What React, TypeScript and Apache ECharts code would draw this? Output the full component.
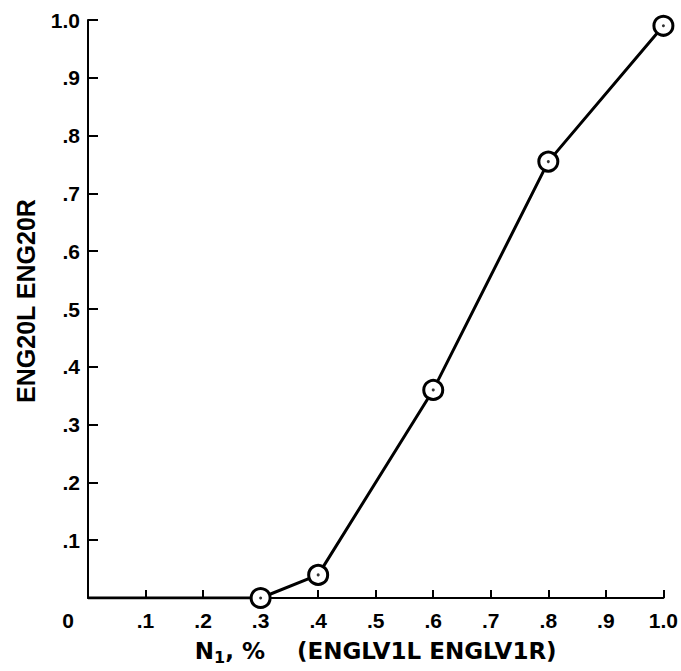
import React, { useEffect, useRef } from "react";
import * as echarts from "echarts";

// Measured response: N1 (ENGLV1L/ENGLV1R) against ENG20L/ENG20R
const n1Values = [0, 0.3, 0.4, 0.6, 0.8, 1.0];
const engValues = [0, 0, 0.04, 0.36, 0.755, 0.99];
// the first point sits on the origin and carries no marker
const hasMarker = [false, true, true, true, true, true];

const xTickLabels = ["", ".1", ".2", ".3", ".4", ".5", ".6", ".7", ".8", ".9", "1.0"];
const yTickLabels = ["0", ".1", ".2", ".3", ".4", ".5", ".6", ".7", ".8", ".9", "1.0"];

const xAxisTitle = "(ENGLV1L ENGLV1R)";
const yAxisTitle = "ENG20L ENG20R";

const FONT = "'Liberation Sans', Arial, Helvetica, sans-serif";
const WIDE_FONT = "'DejaVu Sans', 'Liberation Sans', sans-serif";

export default function App() {
  const ref = useRef<HTMLDivElement>(null);

  useEffect(() => {
    if (!ref.current) return;
    const chart = echarts.init(ref.current, undefined, { renderer: "svg" });

    const lineData = n1Values.map((x, i) =>
      hasMarker[i]
        ? { value: [x, engValues[i]] }
        : { value: [x, engValues[i]], symbol: "none" }
    );
    const dotData = n1Values
      .map((x, i) => [x, engValues[i]])
      .filter((_, i) => hasMarker[i]);

    const tickIndex = (v: number) => Math.round(v * 10);

    chart.setOption({
      animation: false,
      backgroundColor: "#ffffff",
      grid: { left: 88, right: 13, top: 20, bottom: 73 },
      xAxis: {
        type: "value",
        min: 0,
        max: 1,
        interval: 0.1,
        splitLine: { show: false },
        axisLine: { show: true, lineStyle: { color: "#000", width: 2 } },
        axisTick: { show: true, inside: true, length: 8, lineStyle: { color: "#000", width: 2 } },
        axisLabel: {
          margin: 12,
          color: "#000",
          fontFamily: FONT,
          fontWeight: "bold",
          fontSize: 21,
          formatter: (v: number) => xTickLabels[tickIndex(v)] ?? "",
        },
        name: `N{sub|1}, %    ${xAxisTitle}`,
        nameLocation: "middle",
        nameGap: 40,
        nameTextStyle: {
          color: "#000",
          fontFamily: WIDE_FONT,
          fontWeight: "bold",
          fontSize: 23,
          lineHeight: 26,
          rich: {
            sub: {
              color: "#000",
              fontFamily: WIDE_FONT,
              fontWeight: "bold",
              fontSize: 16,
              lineHeight: 26,
              padding: [12, 0, 0, 0],
            },
          },
        },
      },
      yAxis: {
        type: "value",
        min: 0,
        max: 1,
        interval: 0.1,
        splitLine: { show: false },
        axisLine: { show: true, lineStyle: { color: "#000", width: 2 } },
        axisTick: { show: true, inside: true, length: 10, lineStyle: { color: "#000", width: 2 } },
        axisLabel: {
          margin: 8,
          color: "#000",
          fontFamily: FONT,
          fontWeight: "bold",
          fontSize: 21,
          formatter: (v: number) => {
            const i = tickIndex(v);
            return i === 0 ? "{origin|0}" : yTickLabels[i] ?? "";
          },
          rich: {
            origin: {
              color: "#000",
              fontFamily: FONT,
              fontWeight: "bold",
              fontSize: 21,
              padding: [44, 6, 0, 0],
            },
          },
        },
        name: yAxisTitle,
        nameLocation: "middle",
        nameGap: 50,
        nameTextStyle: {
          color: "#000",
          fontFamily: FONT,
          fontWeight: "bold",
          fontSize: 25,
          padding: [0, 0, 0, 16],
        },
      },
      series: [
        {
          type: "line",
          data: lineData,
          symbol: "circle",
          symbolSize: 19,
          showAllSymbol: true,
          lineStyle: { color: "#000", width: 3 },
          itemStyle: { color: "#fff", borderColor: "#000", borderWidth: 3 },
          z: 3,
        },
        {
          type: "scatter",
          data: dotData,
          symbol: "circle",
          symbolSize: 3,
          itemStyle: { color: "#000" },
          z: 4,
        },
      ],
    });

    return () => chart.dispose();
  }, []);

  return (
    <div
      ref={ref}
      style={{ position: "fixed", left: 0, top: 0, width: 681, height: 671, background: "#fff" }}
    />
  );
}
